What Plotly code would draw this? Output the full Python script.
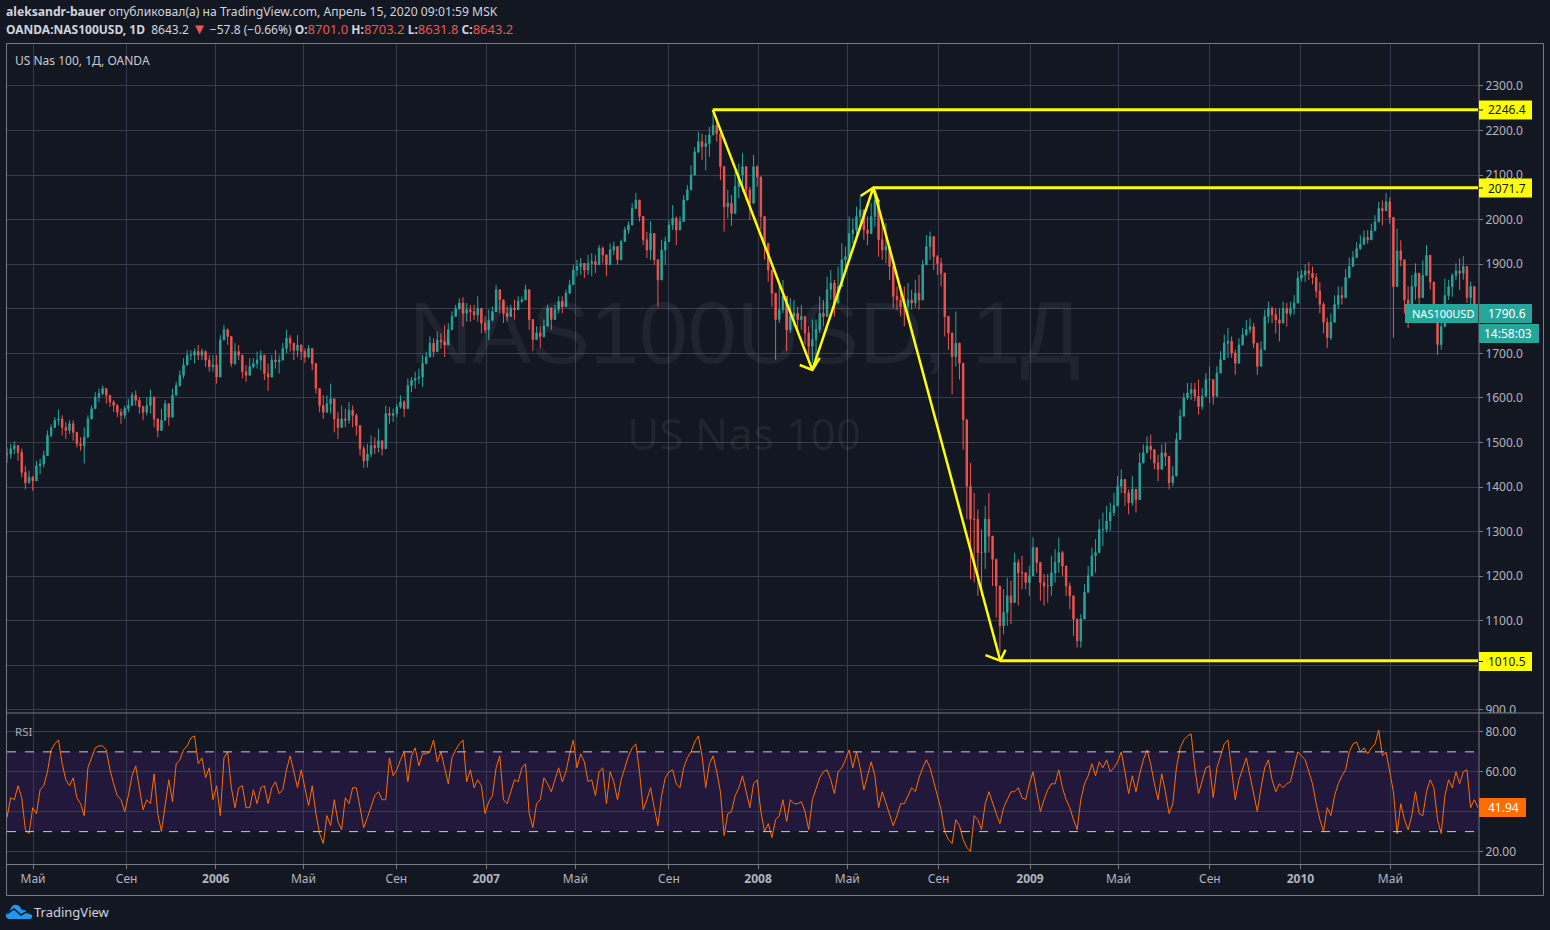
import pandas as pd
import plotly.graph_objects as go
from plotly.subplots import make_subplots

# values (one bar about every 5 days)
highs = [1489,1497,1503,1489,1486,1448,1437,1425,1459,1463,
1482,1527,1541,1557,1574,1561,1546,1550,1550,1512,
1512,1534,1561,1583,1613,1621,1628,1617,1606,1595,
1587,1576,1583,1598,1613,1617,1602,1583,1602,1619,
1576,1550,1576,1595,1580,1621,1636,1662,1689,1707,
1707,1711,1719,1711,1707,1696,1696,1696,1741,1764,
1756,1730,1723,1719,1681,1674,1689,1689,1704,1707,
1674,1677,1696,1707,1696,1723,1753,1741,1723,1741,
1719,1711,1719,1711,1644,1610,1606,1606,1632,1576,
1568,1583,1576,1591,1583,1565,1504,1493,1497,1516,
1512,1531,1497,1583,1580,1576,1587,1606,1595,1644,
1647,1659,1666,1696,1704,1738,1734,1749,1745,1764,
1768,1794,1809,1824,1826,1813,1809,1809,1828,1794,
1783,1798,1805,1854,1843,
1805,1805,1809,1820,1828,1828,1854,1835,1761,1761,
1761,1776,1809,1802,1809,1828,1828,1843,1865,1899,
1910,1914,1902,1921,1925,1921,1943,1940,1921,1947,
1951,1940,1955,1984,1996,2037,2060,2044,1999,1973,
1996,1947,1895,1955,1962,1999,2033,2007,2007,2055,
2078,2122,2163,2197,2193,2190,2208,2238,2219,2193,
2089,2067,2055,2108,2126,2149,2100,2074,2145,2122,
2067,1984,1925,1873,1820,1854,1865,1805,1824,1820,
1805,1809,1768,1761,1776,1776,1828,1820,1872,1887,
1865,1895,1947,1940,2007,2003,2029,2052,2014,2007,
2037,2059,2007,1992,1992,1932,1872,1850,1843,1850,
1858,1843,1865,1876,1910,1966,1973,1940,1921,1914,
1843,1779,1742,1794,1708,1600,1477,1454,1387,1350,
1305,1358,1387,1290,1238,1178,1171,1197,1190,1253,
1238,1246,1208,1223,1287,1261,1223,1205,1205,1246,
1261,1287,1257,1205,1186,1141,1089,1115,1182,1223,
1264,1283,1328,1343,1358,1365,1387,1425,1440,1413,
1395,1425,1395,1477,1496,1514,1518,1477,1473,1496,
1499,1451,1447,1522,1574,1611,1634,1634,1634,1641,
1622,1656,1671,1634,1671,1705,1742,1757,1738,1708,
1734,1757,1775,1779,1768,1701,1727,1798,1816,1805,
1801,1801,1816,1813,1816,1831,1884,1887,
1900,1905,1895,1880,1860,1815,1780,1790,1830,1850,
1850,1890,1915,1930,1950,1965,1976,1976,1991,2010,
2040,2043,2060,2050,1990,1980,1954,1895,1850,1876,
1902,1850,1909,1943,1895,1850,1768,1775,1868,1865,
1880,1902,1913,1918,1865,1861,1850,1810]

lows = [1455,1463,1474,1459,1422,1395,1407,1392,1422,1429,
1444,1482,1512,1534,1538,1516,1508,1519,1504,1489,
1482,1453,1534,1561,1587,1591,1606,1587,1580,1568,
1557,1542,1553,1568,1587,1583,1565,1550,1561,1565,
1534,1512,1531,1557,1538,1565,1617,1625,1644,1674,
1685,1677,1685,1685,1670,1659,1659,1632,1689,1741,
1719,1670,1674,1685,1644,1636,1655,1666,1666,1662,
1640,1616,1662,1666,1655,1689,1700,1704,1685,1692,
1685,1679,1689,1662,1610,1568,1553,1568,1565,1523,
1508,1538,1534,1542,1534,1516,1471,1443,1444,1467,
1474,1478,1471,1497,1542,1546,1557,1576,1557,1610,
1613,1621,1632,1625,1677,1696,1692,1707,1711,1692,
1726,1753,1786,1798,1760,1771,1771,1775,1771,1745,
1745,1730,1771,1820,1790,
1768,1772,1783,1776,1802,1813,1820,1753,1705,1731,
1712,1735,1776,1753,1779,1790,1790,1820,1843,1861,
1873,1876,1869,1876,1873,1880,1902,1902,1873,1910,
1921,1899,1925,1955,1969,1992,2029,1996,1943,1914,
1910,1899,1805,1899,1899,1955,1977,1943,1977,2029,
2048,2089,2111,2149,2134,2111,2141,2193,2175,2089,
1973,2003,1986,2014,2048,2063,2044,2000,2044,2074,
1977,1910,1861,1805,1686,1768,1790,1705,1746,1761,
1746,1753,1720,1686,1679,1671,1746,1761,1790,1820,
1783,1813,1865,1887,1917,1947,1962,1977,1955,1943,
1977,1984,1917,1910,1902,1865,1802,1798,1783,1761,
1783,1798,1802,1798,1873,1902,1910,1887,1876,1850,
1738,1708,1608,1671,1641,1484,1328,1193,1186,1156,
1156,1216,1253,1178,1107,1029,1070,1089,1093,1171,
1134,1171,1171,1156,1223,1208,1145,1134,1141,1156,
1186,1208,1201,1156,1126,1066,1040,1040,1111,1178,
1208,1208,1253,1268,1298,1302,1335,1380,1387,1358,
1339,1358,1343,1402,1454,1477,1462,1440,1413,1462,
1447,1395,1402,1447,1522,1574,1596,1596,1593,1563,
1574,1619,1589,1585,1634,1664,1701,1690,1690,1652,
1701,1723,1738,1745,1712,1652,1671,1738,1768,1768,
1745,1727,1775,1760,1783,1787,1831,1861,
1860,1865,1855,1825,1790,1745,1712,1730,1770,1800,
1810,1825,1870,1902,1920,1932,1943,1946,1961,1976,
1999,1987,2028,1991,1735,1865,1895,1790,1757,1820,
1820,1802,1835,1880,1843,1768,1697,1708,1775,1820,
1827,1865,1842,1865,1813,1802,1783,1772]

closes = [1474,1486,1493,1478,1433,1410,1422,1414,1448,1452,
1471,1516,1534,1550,1553,1534,1527,1542,1523,1497,
1493,1512,1553,1576,1602,1610,1621,1606,1591,1583,
1568,1561,1576,1583,1606,1595,1580,1568,1583,1602,
1553,1527,1550,1587,1557,1606,1628,1651,1674,1696,
1696,1704,1696,1704,1685,1670,1674,1647,1730,1753,
1738,1677,1704,1696,1659,1651,1670,1677,1685,1696,
1655,1647,1685,1681,1685,1711,1734,1723,1707,1719,
1704,1692,1711,1677,1621,1583,1568,1587,1598,1553,
1534,1553,1550,1572,1561,1538,1486,1459,1474,1493,
1489,1504,1486,1565,1561,1565,1580,1591,1576,1628,
1640,1644,1647,1677,1692,1723,1704,1730,1726,1719,
1753,1783,1801,1813,1790,1798,1794,1786,1801,1768,
1753,1775,1794,1843,1820,
1790,1783,1802,1798,1817,1820,1843,1776,1731,1746,
1738,1761,1802,1776,1798,1817,1805,1835,1854,1887,
1895,1902,1887,1902,1906,1899,1936,1921,1899,1932,
1940,1910,1951,1977,1988,2025,2044,2007,1955,1932,
1969,1910,1865,1932,1951,1988,2003,1977,1996,2044,
2067,2100,2152,2175,2164,2171,2190,2212,2193,2119,
2029,2037,2014,2074,2100,2119,2067,2037,2119,2096,
2007,1947,1887,1835,1776,1798,1828,1753,1783,1790,
1776,1783,1746,1716,1731,1753,1790,1783,1843,1858,
1813,1850,1910,1917,1969,1977,2007,2022,1977,1969,
2007,2044,1955,1932,1940,1895,1828,1820,1805,1805,
1820,1813,1835,1820,1899,1940,1962,1917,1902,1880,
1783,1746,1693,1723,1678,1551,1402,1328,1328,1253,
1253,1328,1290,1238,1178,1089,1119,1156,1141,1231,
1208,1208,1186,1201,1264,1231,1186,1178,1178,1208,
1231,1253,1223,1178,1156,1104,1055,1104,1164,1201,
1246,1253,1305,1305,1324,1343,1358,1402,1417,1387,
1365,1395,1372,1454,1477,1492,1484,1454,1440,1477,
1469,1410,1425,1507,1559,1600,1611,1619,1604,1581,
1604,1641,1641,1604,1656,1686,1723,1727,1701,1678,
1719,1742,1753,1760,1723,1671,1708,1783,1801,1787,
1775,1768,1801,1790,1801,1813,1869,1876,
1885,1880,1870,1840,1810,1770,1735,1770,1810,1830,
1825,1870,1895,1915,1935,1945,1960,1955,1975,1995,
2025,2020,2040,2005,1850,1930,1910,1820,1790,1850,
1880,1825,1875,1920,1860,1790,1720,1760,1830,1850,
1875,1885,1880,1895,1825,1850,1810,1790.6]

rsi = [37,47,46,53,47,31,29,42,39,51,
53,60,71,74,76,64,56,53,57,47,
44,38,62,67,72,73,73,71,61,54,
48,46,40,48,58,63,52,41,46,44,
59,39,30,42,56,45,64,66,71,73,
77,78,64,67,57,62,46,53,38,67,
70,52,42,52,53,42,42,51,44,52,
53,44,52,55,49,51,61,68,60,52,
61,51,43,53,39,29,24,38,33,46,
35,31,47,44,52,52,42,32,37,42,
48,50,46,46,67,58,61,66,70,55,
68,72,63,69,69,70,76,65,70,62,
54,67,71,74,76,55,61,52,56,53,
39,45,48,62,68,
46,44,50,56,55,62,64,39,32,44,
46,57,54,50,56,62,55,60,69,76,
62,69,65,55,56,48,60,62,44,60,
55,46,56,62,68,72,74,60,41,46,
52,42,33,48,57,60,61,54,52,62,
67,70,75,78,68,52,64,68,60,50,
28,39,40,48,52,58,50,42,54,56,
40,30,34,27,
36,38,46,35,46,44,44,45,40,31,
46,52,57,60,61,56,49,60,62,66,
71,62,70,62,51,58,65,58,42,50,
44,38,33,38,44,44,48,52,50,57,
62,66,62,55,48,41,30,26,24,36,
33,26,22,20,38,36,31,44,50,44,
39,34,42,46,50,50,52,47,46,54,
60,50,40,46,51,54,54,61,52,46,
42,36,31,46,54,58,64,58,65,62,
66,60,62,65,70,60,49,58,50,59,
66,71,64,54,46,59,50,39,44,62,
72,76,78,79,62,49,56,62,63,47,
62,68,74,76,60,46,56,62,67,58,
48,40,52,62,66,56,50,54,52,54,
55,62,70,68,66,60,54,44,36,30,
42,38,48,54,58,61,70,74,75,70,
72,69,72,74,81,68,70,60,50,29,
44,36,31,38,50,39,38,50,56,52,
36,29,48,56,52,60,54,60,61,42,
46,41.94]

start_date = "2005-03-27"
end_date = "2010-08-28"

tick_dates = ["2005-05-01","2005-09-04","2006-01-02","2006-04-30","2006-09-02","2007-01-01",
              "2007-05-01","2007-09-04","2008-01-02","2008-05-01","2008-09-01","2009-01-02",
              "2009-05-01","2009-09-01","2010-01-01","2010-05-02"]
tick_text = ["Май","Сен","<b>2006</b>","Май","Сен","<b>2007</b>","Май","Сен","<b>2008</b>",
             "Май","Сен","<b>2009</b>","Май","Сен","<b>2010</b>","Май"]
price_ticks = [900,1000,1100,1200,1300,1400,1500,1600,1700,1800,1900,2000,2100,2200,2300]
# 1000, 1800 and 40 sit behind the value boxes in the picture
price_labels = ["900.0","","1100.0","1200.0","1300.0","1400.0","1500.0","1600.0","1700.0","",
                "1900.0","2000.0","2100.0","2200.0","2300.0"]
rsi_ticks = [20,40,60,80]
rsi_labels = ["20.00","","60.00","80.00"]

# yellow drawing
wave_dates = ["2007-11-02","2008-03-15","2008-06-05","2008-11-23"]
wave_prices = [2246.4,1663,2071.7,1010.5]
levels = [2246.4,2071.7,1010.5]
level_starts = ["2007-11-02","2008-06-05","2008-11-23"]
arrow_arm_dates = [["2008-02-27","2008-03-15","2008-03-25"],
                   ["2008-05-19","2008-06-05","2008-06-12"],
                   ["2008-11-03","2008-11-23","2008-11-30"]]
arrow_arm_prices = [[1674,1663,1690],
                    [2053,2071.7,2040],
                    [1023,1010.5,1035]]

BG = "#131722"
GRID = "#363c4e"
BORDER = "#787b86"
TEXT = "#b2b5be"
UP = "#26a69a"
DOWN = "#ef5350"
YELLOW = "#ffff00"
ORANGE = "#ff6d00"
FONT = "Noto Sans"

dates = pd.date_range(start_date, end_date, periods=len(closes))
rsi_dates = pd.date_range(start_date, end_date, periods=len(rsi))
opens = [closes[0]] + closes[:-1]

fig = make_subplots(rows=2, cols=1, shared_xaxes=True, vertical_spacing=0.001)

fig.add_trace(go.Candlestick(x=dates, open=opens, high=highs, low=lows, close=closes,
                             increasing=dict(line=dict(color=UP, width=1), fillcolor=UP),
                             decreasing=dict(line=dict(color=DOWN, width=1), fillcolor=DOWN),
                             whiskerwidth=0, showlegend=False), row=1, col=1)

fig.add_trace(go.Scatter(x=wave_dates, y=wave_prices, mode="lines",
                         line=dict(color=YELLOW, width=2.5), showlegend=False), row=1, col=1)
for d, p in zip(arrow_arm_dates, arrow_arm_prices):
    fig.add_trace(go.Scatter(x=d, y=p, mode="lines", line=dict(color=YELLOW, width=2.5),
                             showlegend=False), row=1, col=1)
for lvl, s in zip(levels, level_starts):
    fig.add_trace(go.Scatter(x=[s, end_date], y=[lvl, lvl], mode="lines",
                             line=dict(color=YELLOW, width=3), showlegend=False), row=1, col=1)

fig.add_trace(go.Scatter(x=rsi_dates, y=rsi, mode="lines", line=dict(color=ORANGE, width=1),
                         showlegend=False), row=2, col=1)


# page pixels to paper fractions (plot area is x 7-1478, y 44-864)
def px(x):
    return (x - 7) / 1471


def py(y):
    return (864 - y) / 820


def label(text, x, y, size=12, color=TEXT, anchor="left", family=FONT):
    # annotations carry about 2px of padding
    if anchor == "left":
        x = x - 2
    fig.add_annotation(text=text, x=px(x), y=py(y), xref="paper", yref="paper", xanchor=anchor,
                       yanchor="middle", showarrow=False, font=dict(size=size, color=color, family=family))


def rect(x0, y0, x1, y1, color):
    fig.add_shape(type="rect", xref="paper", yref="paper", x0=px(x0), x1=px(x1), y0=py(y0), y1=py(y1),
                  fillcolor=color, line=dict(width=0), layer="above")


def border(x0, y0, x1, y1):
    fig.add_shape(type="line", xref="paper", yref="paper", x0=px(x0), x1=px(x1), y0=py(y0), y1=py(y1),
                  line=dict(color=BORDER, width=1), layer="above")


# rsi band and its limits
fig.add_hrect(y0=30, y1=70, fillcolor="#21183c", line_width=0, layer="below", row=2, col=1)
for v in [30, 70]:
    fig.add_hline(y=v, line=dict(color="#c9c9d4", width=1, dash="dash"), layer="above", row=2, col=1)

# hides the lower part of the 900.0 label like the pane edge does
rect(1480, 713, 1542, 726, BG)

# frame
border(6.5, 43.5, 1543.5, 43.5)
border(6.5, 895.5, 1543.5, 895.5)
border(6.5, 43.5, 6.5, 895.5)
border(1543.5, 43.5, 1543.5, 895.5)
border(1479, 43.5, 1479, 895.5)
border(6.5, 864.5, 1543.5, 864.5)
border(6.5, 713, 1543.5, 713)

# price scale boxes
for val, y in zip(["2246.4", "2071.7", "1010.5"], [110, 188, 661.5]):
    rect(1479, y - 9.5, 1532, y + 9.5, YELLOW)
    rect(1479, y - 0.5, 1483, y + 0.5, "#131722")
    label(val, 1488, y, color="#131722")
rect(1479, 304, 1532, 323, UP)
label("1790.6", 1488, 313.5, color="#ffffff")
rect(1479, 324, 1539, 343, UP)
label("14:58:03", 1484, 333.5, color="#ffffff")
rect(1405, 304, 1478, 323, UP)
label("NAS100USD", 1412, 313.5, size=11, color="#ffffff")
rect(1479, 798, 1526, 817, ORANGE)
label("41.94", 1488, 807.5, color="#ffffff")

# header text
red = '<span style="color:#ef5350;font-size:13px">%s</span>'
label('<b>aleksandr-bauer</b> опубликовал(а) на TradingView.com, Апрель 15, 2020 09:01:59 MSK',
      6, 12, size=12.15, color="#d1d4dc")
label('<b>OANDA:NAS100USD, 1D</b>&nbsp;&nbsp;8643.2&nbsp;' + '<span style="color:#ef5350;font-size:15px">▼</span>'
      + '&nbsp;−57.8 (−0.66%)&nbsp;<b>O:</b>' + red % "8701.0"
      + '&nbsp;<b>H:</b>' + red % "8703.2" + '&nbsp;<b>L:</b>' + red % "8631.8" + '&nbsp;<b>C:</b>' + red % "8643.2",
      6, 28, color="#d1d4dc")
label("US Nas 100, 1Д, OANDA", 15, 60.5, color="#c8cbd3")
label("RSI", 15, 731, size=11.5, color="#a9acb5")

# watermark
label("NAS100USD, 1Д", 744, 332, size=88, color="rgba(255,255,255,0.06)", anchor="center", family="Liberation Sans")
label("US Nas 100", 744, 433, size=44, color="rgba(255,255,255,0.06)", anchor="center")

# logo
fig.add_shape(type="path", xref="paper", yref="paper", xsizemode="pixel", ysizemode="pixel",
              xanchor=px(6), yanchor=py(919),
              path="M 2,0 L 24,0 Q 27,1 26,4 Q 25,7 21,7 Q 19,10 16,9 Q 13,15 8,14 Q 5,13 4,8 Q -1,6 0,2 Z",
              fillcolor="#2196f3", line=dict(width=0), layer="above")
fig.add_shape(type="path", xref="paper", yref="paper", xsizemode="pixel", ysizemode="pixel",
              xanchor=px(6), yanchor=py(919),
              path="M 1,5 L 8,10 L 15,4 L 20,7 L 26,5",
              line=dict(color=BG, width=1.5), layer="above")
label("TradingView", 34, 911.5, size=13, color="#d1d4dc")

axis_style = dict(showgrid=True, gridcolor=GRID, gridwidth=1, zeroline=False, showline=False)
fig.update_xaxes(type="date", range=[start_date, end_date], tickmode="array", tickvals=tick_dates,
                 ticktext=tick_text, ticks="outside", ticklen=4, tickcolor=BORDER,
                 tickfont=dict(size=12, color=TEXT, family=FONT), rangeslider_visible=False, **axis_style)
fig.update_yaxes(side="right", ticks="outside", ticklen=4, tickcolor=BORDER, tickmode="array",
                 tickfont=dict(size=12, color=TEXT, family=FONT), **axis_style)
fig.update_yaxes(range=[894.3, 2394.2], tickvals=price_ticks, ticktext=price_labels,
                 domain=[(864 - 712.5) / 820, 1], row=1, col=1)
fig.update_yaxes(range=[13.75, 89.25], tickvals=rsi_ticks, ticktext=rsi_labels,
                 domain=[0, (864 - 713.5) / 820], row=2, col=1)

fig.update_layout(width=1550, height=930, margin=dict(l=7, r=72, t=44, b=66), paper_bgcolor=BG, plot_bgcolor=BG,
                  showlegend=False, font=dict(family=FONT), boxgap=0.45)

fig.write_html("out.html", config={"displayModeBar": False}, post_script="document.body.style.margin='0';")
